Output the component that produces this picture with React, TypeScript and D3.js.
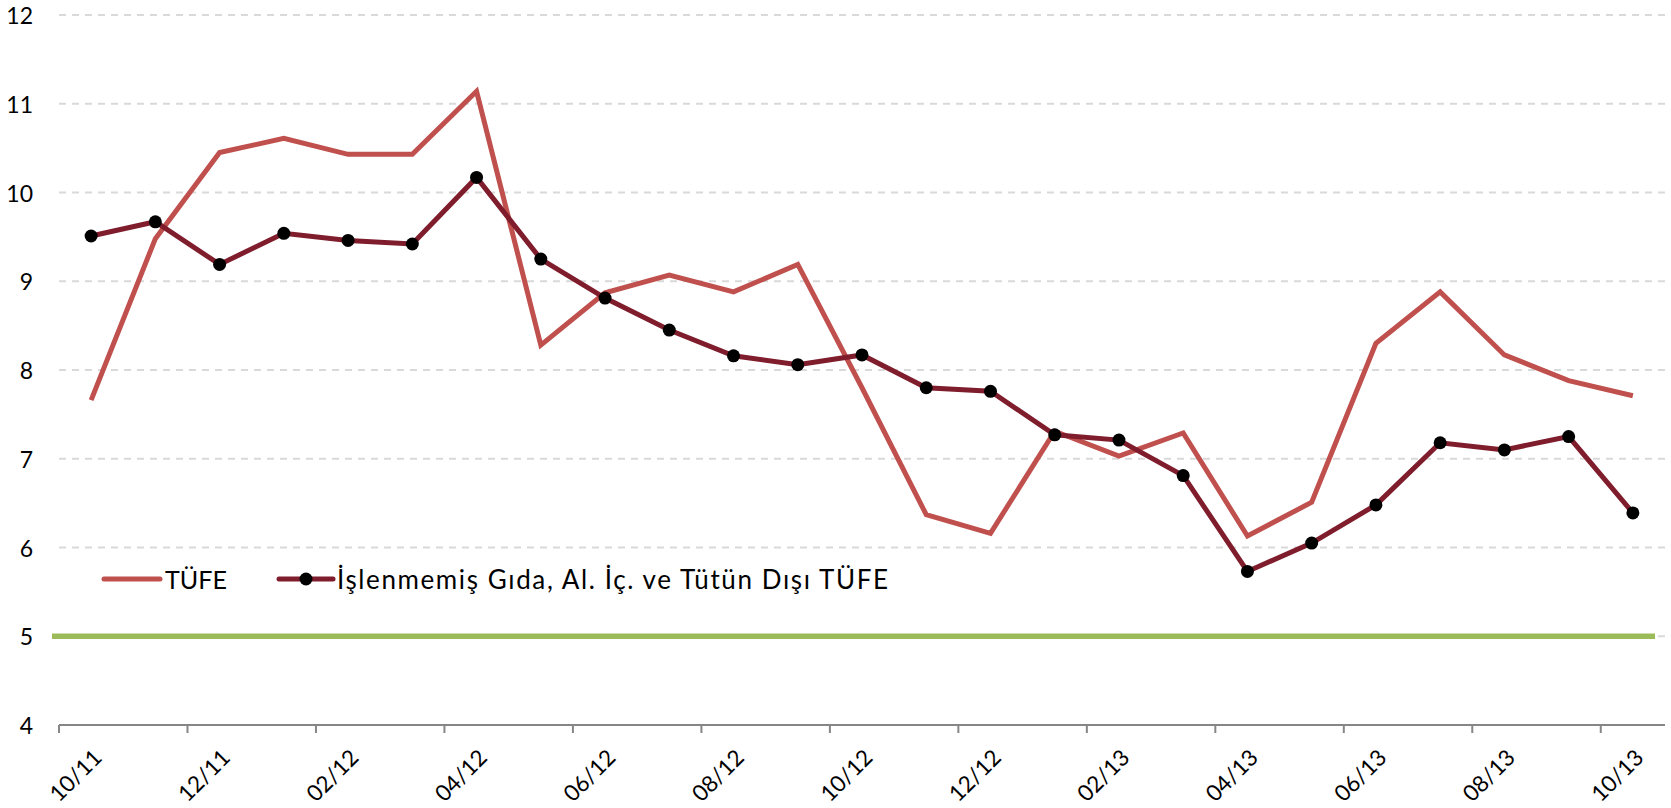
import React from "react";
import * as d3 from "d3";

const categories = [
  "10/11", "11/11", "12/11", "01/12", "02/12", "03/12", "04/12", "05/12", "06/12",
  "07/12", "08/12", "09/12", "10/12", "11/12", "12/12", "01/13", "02/13", "03/13",
  "04/13", "05/13", "06/13", "07/13", "08/13", "09/13", "10/13",
];
const tufe = [
  7.66, 9.48, 10.45, 10.61, 10.43, 10.43, 11.14, 8.28, 8.87, 9.07, 8.88, 9.19, 7.8,
  6.37, 6.16, 7.31, 7.03, 7.29, 6.13, 6.51, 8.3, 8.88, 8.17, 7.88, 7.71,
];
const core = [
  9.51, 9.67, 9.19, 9.54, 9.46, 9.42, 10.17, 9.25, 8.81, 8.45, 8.16, 8.06, 8.17,
  7.8, 7.76, 7.27, 7.21, 6.81, 5.73, 6.05, 6.48, 7.18, 7.1, 7.25, 6.39,
];
const target = 5;
const yTicks = [4, 5, 6, 7, 8, 9, 10, 11, 12];
const seriesNames = ["TÜFE", "İşlenmemiş Gıda, Al. İç. ve Tütün Dışı TÜFE"];

const W = 1671;
const H = 808;
const FONT = "Lato, 'Open Sans', sans-serif";

export default function App() {
  const x = d3.scaleBand<string>().domain(categories).range([59, 1665]).paddingInner(0).paddingOuter(0);
  const y = d3.scaleLinear().domain([4, 12]).range([725, 15]);
  const cx = (c: string) => (x(c) as number) + x.bandwidth() / 2;

  const line = d3
    .line<number>()
    .x((_, i) => cx(categories[i]))
    .y((d) => y(d));

  const labelIdx = categories.map((_, i) => i).filter((i) => i % 2 === 0);

  return (
    <svg
      width={W}
      height={H}
      style={{ position: "absolute", left: 0, top: 0, background: "#fff" }}
      fontFamily={FONT}
    >
      {/* gridlines */}
      {yTicks.filter((t) => t > 4).map((t) => (
        <line
          key={"g" + t}
          x1={59}
          x2={1665}
          y1={y(t)}
          y2={y(t)}
          stroke="#D9D9D9"
          strokeWidth={2}
          strokeDasharray="7,6"
        />
      ))}
      {/* y labels */}
      {yTicks.map((t) => (
        <text
          key={"yl" + t}
          x={33}
          y={y(t)}
          textAnchor="end"
          dominantBaseline="central"
          fontSize={23}
          fill="#000"
        >
          {t}
        </text>
      ))}
      {/* target line */}
      <line
        x1={52}
        x2={1655}
        y1={y(target)}
        y2={y(target)}
        stroke="#9BBB59"
        strokeWidth={5.5}
      />
      {/* x axis */}
      <line x1={59} x2={1665} y1={y(4)} y2={y(4)} stroke="#868686" strokeWidth={2} />
      {labelIdx.map((i) => (
        <line
          key={"t" + i}
          x1={x(categories[i]) as number}
          x2={x(categories[i]) as number}
          y1={y(4)}
          y2={y(4) + 8}
          stroke="#868686"
          strokeWidth={2}
        />
      ))}
      {labelIdx.map((i) => {
        const ax = cx(categories[i]) + 12;
        const ay = 759;
        return (
          <text
            key={"xl" + i}
            x={ax}
            y={ay}
            textAnchor="end"
            fontSize={22.5}
            fill="#000"
            transform={`rotate(-45 ${ax} ${ay})`}
          >
            {categories[i]}
          </text>
        );
      })}
      {/* series */}
      <path d={line(tufe) || ""} fill="none" stroke="#C0504D" strokeWidth={5} strokeLinejoin="miter" />
      <path d={line(core) || ""} fill="none" stroke="#7F1D2D" strokeWidth={5} strokeLinejoin="miter" />
      {core.map((v, i) => (
        <circle key={"m" + i} cx={cx(categories[i])} cy={y(v)} r={6.5} fill="#000" />
      ))}
      {/* legend */}
      <line x1={104} x2={160} y1={579} y2={579} stroke="#C0504D" strokeWidth={5} strokeLinecap="round" />
      <text x={165} y={579} dominantBaseline="central" fontSize={25} fill="#000" textLength={62} lengthAdjust="spacingAndGlyphs">
        {seriesNames[0]}
      </text>
      <line x1={279} x2={333} y1={579} y2={579} stroke="#7F1D2D" strokeWidth={5} strokeLinecap="round" />
      <circle cx={306} cy={579} r={6.5} fill="#000" />
      <text x={337} y={579} dominantBaseline="central" fontSize={26} fill="#000" textLength={551} lengthAdjust="spacing">
        {seriesNames[1]}
      </text>
    </svg>
  );
}
